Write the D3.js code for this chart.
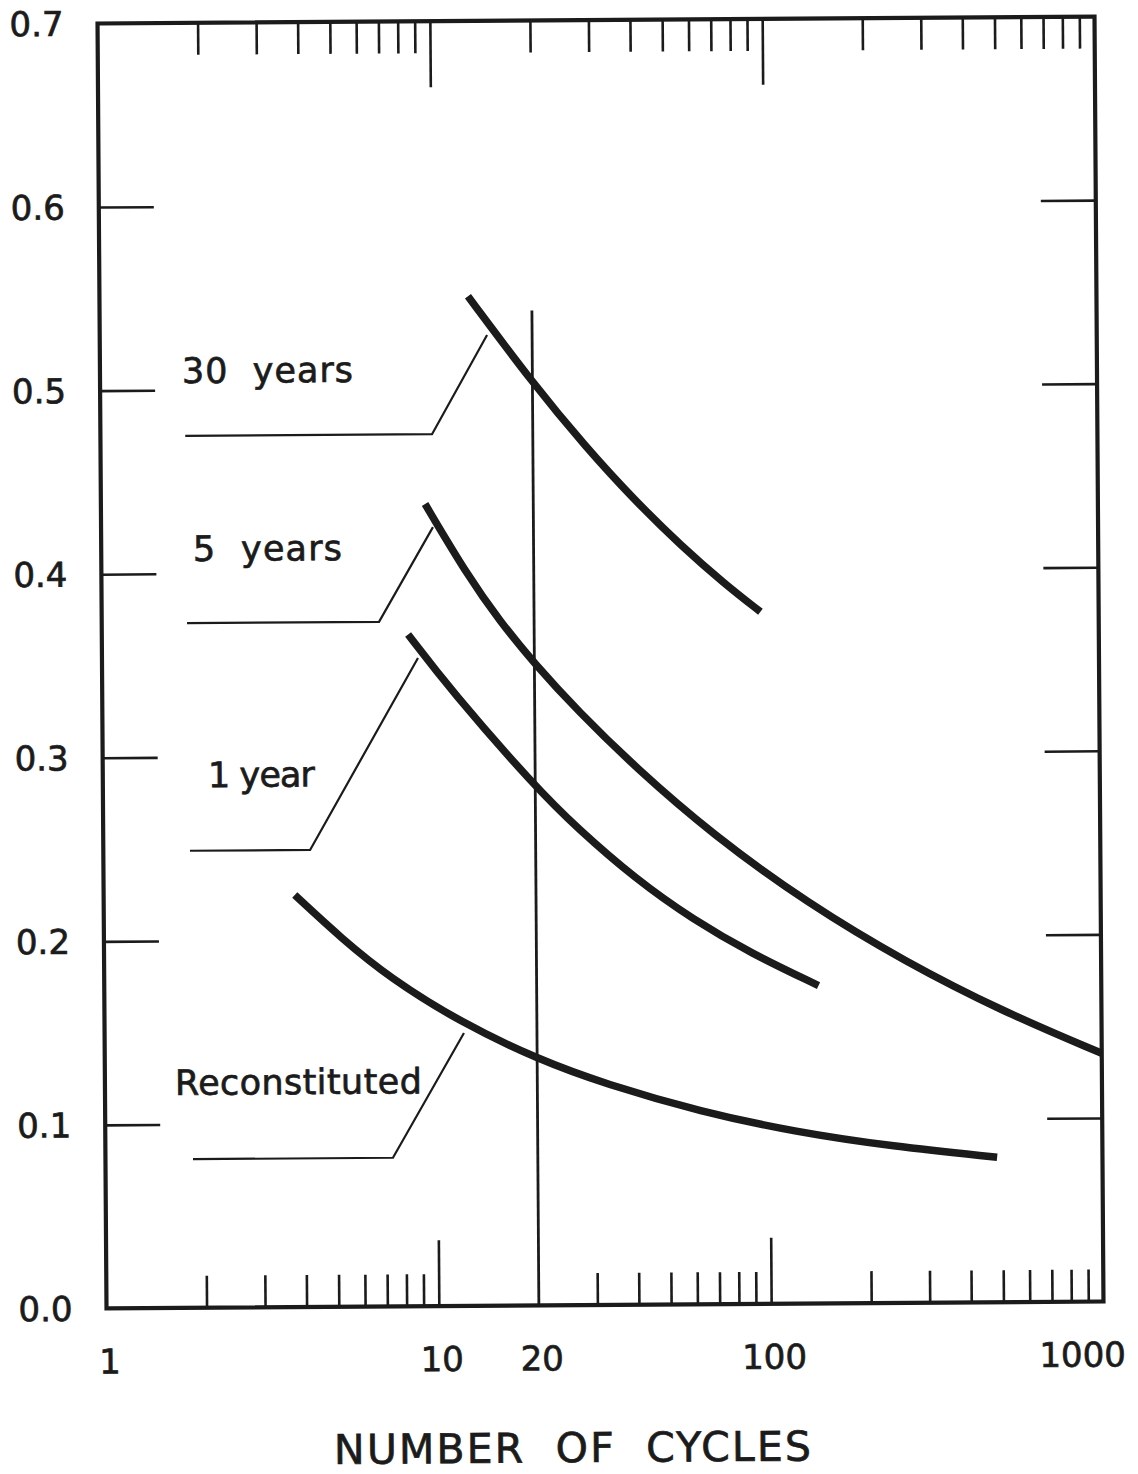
<!DOCTYPE html>
<meta charset="utf-8">
<style>
  body { margin: 0; background: #fff; }
  text { font-family: "DejaVu Sans", sans-serif; fill: #1b1b1b; stroke: #1b1b1b; stroke-width: 0.7; }
  rect.frame { fill: none; stroke: #1b1b1b; stroke-width: 4.2; }
  .tick line { stroke: #1b1b1b; stroke-width: 2.6; }
  path.curve { fill: none; stroke: #1b1b1b; stroke-width: 7.5; }
  path.leader { fill: none; stroke: #1b1b1b; stroke-width: 2.2; }
  line.ref20 { stroke: #1b1b1b; stroke-width: 2.8; }
</style>

<body>
<div id="chart"></div>

<script src="https://d3js.org/d3.v7.min.js"></script>
<script>

  // curves (number of cycles -> value)
  var cycles30 = [12.85, 20, 29, 40, 56, 75, 96],
      values30 = [0.55, 0.5026, 0.467, 0.439, 0.4127, 0.3924, 0.377];
  var cycles5 = [9.45, 12.6, 15.8, 20, 27, 40, 68, 132, 257, 500, 1000],
      values5 = [0.437, 0.3983, 0.3727, 0.3497, 0.3236, 0.2929, 0.256, 0.2177, 0.1859, 0.1587, 0.1352];
  var cycles1 = [8.35, 11.2, 20, 26.8, 39.8, 59.3, 88.5, 141],
      values1 = [0.366, 0.3354, 0.2825, 0.2596, 0.2321, 0.2096, 0.191, 0.1732];
  var cyclesR = [3.76, 5.2, 7.22, 11.85, 20.1, 32, 62, 120, 233, 482],
      valuesR = [0.2245, 0.2005, 0.1791, 0.1543, 0.1341, 0.1204, 0.1049, 0.0934, 0.0853, 0.079];

  // callout labels and their leader lines
  var labels = ["30  years", "5  years", "1 year", "Reconstituted"],
      labelCycles = [1.766, 1.888, 2.072, 1.624],
      labelValues = [0.5038, 0.4068, 0.2836, 0.116];
  var leaderCycles = [[1.8, 9.95, 14.64], [1.806, 6.83, 9.97], [1.823, 4.19, 8.93], [1.834, 7.33, 12.06]],
      leaderValues = [[0.475, 0.475, 0.5288], [0.373, 0.373, 0.4244], [0.249, 0.249, 0.3531], [0.081, 0.081, 0.1487]];

  // axis ticks
  var yTicks = [0.1, 0.2, 0.3, 0.4, 0.5, 0.6],
      yLabels = [0, 0.1, 0.2, 0.3, 0.4, 0.5, 0.6, 0.7],
      xMinorBottom = [2, 3, 4, 5, 6, 7, 8, 9, 30, 40, 50, 60, 70, 80, 90, 200, 300, 400, 500, 600, 700, 800, 900],
      xMinorTop = [2, 3, 4, 5, 6, 7, 8, 9, 20, 30, 40, 50, 60, 70, 80, 90, 200, 300, 400, 500, 600, 700, 800, 900],
      xMajor = [10, 100],
      xLabels = [1, 10, 20, 100, 1000],
      refCycles = 20,
      refTop = 0.542;

  var plotLeft = 102, plotRight = 1099, plotTop = 20, plotBottom = 1305;

  var svg = d3.select("#chart").append("svg")
              .attr("width", 1138)
              .attr("height", 1474),

      // the scanned original sits slightly rotated on the page
      g = svg.append("g")
              .attr("transform", "rotate(-0.4, 600, 662)");

  var x = d3.scaleLog().domain([1, 1000]).range([plotLeft, plotRight]),
      y = d3.scaleLinear().domain([0, 0.7]).range([plotBottom, plotTop]);

  function clean(sel) {
    sel.select(".domain").remove();
    return sel;
  }

  // ticks, all pointing inwards
  g.append("g").attr("transform", "translate(0," + plotBottom + ")")
    .call(d3.axisBottom(x).tickValues(xMinorBottom).tickSize(-32).tickFormat(""))
    .call(clean);
  g.append("g").attr("transform", "translate(0," + plotBottom + ")")
    .call(d3.axisBottom(x).tickValues(xMajor).tickSize(-66).tickFormat(""))
    .call(clean);
  g.append("g").attr("transform", "translate(0," + plotTop + ")")
    .call(d3.axisTop(x).tickValues(xMinorTop).tickSize(-32).tickFormat(""))
    .call(clean);
  g.append("g").attr("transform", "translate(0," + plotTop + ")")
    .call(d3.axisTop(x).tickValues(xMajor).tickSize(-66).tickFormat(""))
    .call(clean);
  g.append("g").attr("transform", "translate(" + plotLeft + ",0)")
    .call(d3.axisLeft(y).tickValues(yTicks).tickSize(-55).tickFormat(""))
    .call(clean);
  g.append("g").attr("transform", "translate(" + plotRight + ",0)")
    .call(d3.axisRight(y).tickValues(yTicks).tickSize(-55).tickFormat(""))
    .call(clean);

  // y labels
  g.selectAll("text.ylab")
      .data(yLabels)
    .enter().append("text")
      .attr("class", "ylab")
      .attr("x", plotLeft - 34)
      .attr("y", function(d) { return y(d); })
      .attr("dy", "0.36em")
      .attr("text-anchor", "end")
      .style("font-size", "34px")
      .text(d3.format(".1f"));

  // x labels
  g.selectAll("text.xlab")
      .data(xLabels)
    .enter().append("text")
      .attr("class", "xlab")
      .attr("x", function(d) { return d === 1000 ? x(d) + 22 : x(d) + 3; })
      .attr("y", plotBottom + 65)
      .attr("text-anchor", function(d) { return d === 1000 ? "end" : "middle"; })
      .style("font-size", "34px")
      .text(function(d) { return d; });

  g.append("text")
    .attr("x", 567)
    .attr("y", 1462)
    .attr("text-anchor", "middle")
    .attr("textLength", 477)
    .attr("lengthAdjust", "spacing")
    .style("font-size", "41px")
    .style("white-space", "pre")
    .text("NUMBER  OF  CYCLES");

  // frame
  g.append("rect")
    .attr("class", "frame")
    .attr("x", plotLeft)
    .attr("y", plotTop)
    .attr("width", plotRight - plotLeft)
    .attr("height", plotBottom - plotTop);

  // reference line at 20 cycles
  g.append("line")
    .attr("class", "ref20")
    .attr("x1", x(refCycles))
    .attr("x2", x(refCycles))
    .attr("y1", y(refTop))
    .attr("y2", y(0));

  var line = d3.line()
                .x(function(d) { return x(d[0]); })
                .y(function(d) { return y(d[1]); })
                .curve(d3.curveBasis);

  var series = [[cycles30, values30], [cycles5, values5], [cycles1, values1], [cyclesR, valuesR]];

  g.selectAll("path.curve")
      .data(series)
    .enter().append("path")
      .attr("class", "curve")
      .attr("d", function(s) {
        return line(s[0].map(function(c, i) { return [c, s[1][i]]; }));
      });

  var straight = d3.line()
                .x(function(d) { return x(d[0]); })
                .y(function(d) { return y(d[1]); });

  g.selectAll("path.leader")
      .data(leaderCycles)
    .enter().append("path")
      .attr("class", "leader")
      .attr("d", function(c, j) {
        return straight(c.map(function(n, i) { return [n, leaderValues[j][i]]; }));
      });

  var widths = [171, 149, 107, 247];

  g.selectAll("text.lab")
      .data(labels)
    .enter().append("text")
      .attr("class", "lab")
      .attr("x", function(d, i) { return x(labelCycles[i]); })
      .attr("y", function(d, i) { return y(labelValues[i]); })
      .attr("textLength", function(d, i) { return widths[i]; })
      .attr("lengthAdjust", "spacing")
      .style("font-size", "35px")
      .style("white-space", "pre")
      .text(function(d) { return d; });

</script>
</body>
